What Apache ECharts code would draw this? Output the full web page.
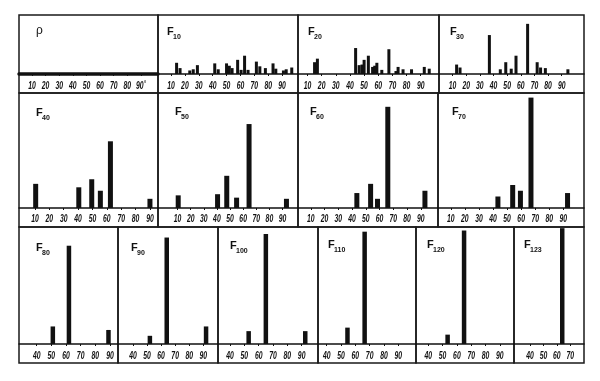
<!DOCTYPE html>
<html><head><meta charset="utf-8">
<script src="https://cdn.jsdelivr.net/npm/echarts@6/dist/echarts.min.js"></script>
<style>html,body{margin:0;padding:0;background:#fff}#c{width:600px;height:381px}</style>
</head><body><div id="c"></div>
<script>
// ---- data ----
const panelNames = ['ρ','F10','F20','F30','F40','F50','F60','F70','F80','F90','F100','F110','F120','F123'];
const ticksWide = [10,20,30,40,50,60,70,80,90];
const ticksNarrow = [40,50,60,70,80,90];
const ticksF123 = [40,50,60,70];
const rhoValues = [];
const f10 = [[14,19],[16.5,10],[23.5,6],[26,8],[29,15],[41.5,18],[44,8],[50,18],[52,14],[54,10],[58,24],[60.5,7],[63,31],[65.5,7],[71.5,21],[74,13],[78,10],[83.5,18],[85.5,9],[91,6],[93,8],[97,11]];
const f20 = [[15,20],[17,26],[44,44],[46.5,15],[48.5,16],[50,24],[53,31],[56,12],[57.5,14],[59,19],[62.5,7],[67.5,42],[72.5,5],[74,12],[77.5,8],[83.5,8],[92.5,12],[96,9]];
const f30 = [[13,16],[15.5,11],[37,66],[45,8],[49,20],[53,9],[56.5,31],[65,85],[72,20],[74.5,11],[78,10],[94.5,8]];
const f40 = [[10.5,21],[40.5,18],[49.5,25],[55.5,15],[62.5,58],[90,8]];
const f50 = [[10.5,11],[40.5,12],[47.5,28],[55,9],[64.5,73],[93,8]];
const f60 = [[43.5,13],[53.5,21],[58.5,8],[66,88],[93,15]];
const f70 = [[43.5,10],[54,20],[59.5,15],[67,96],[93,13]];
const f80 = [[51,15],[62,84],[89,12]];
const f90 = [[52,7],[64,91],[92,15]];
const f100 = [[53,11],[65,94],[92.5,11]];
const f110 = [[54.5,14],[66.5,96]];
const f120 = [[53.5,8],[65,97]];
const f123 = [[64,99]];
const panelData = [rhoValues,f10,f20,f30,f40,f50,f60,f70,f80,f90,f100,f110,f120,f123];

// ---- layout ----
const rows = [{top:15,base:74,bottom:93,lab:12},{top:93,base:208,bottom:227,lab:11},{top:227,base:344,bottom:363,lab:11.5}];
const layout = [
 {l:19,r:158,row:0,min:0.5,max:102.5,ticks:ticksWide,bw:3,tdx:17,tdy:10},
 {l:158,r:298,row:0,min:0.6,max:101.5,ticks:ticksWide,bw:3,tdx:9,tdy:11},
 {l:298,r:439,row:0,min:3.3,max:102.9,ticks:ticksWide,bw:3,tdx:10,tdy:11},
 {l:439,r:584,row:0,min:0.1,max:106.3,ticks:ticksWide,bw:3,tdx:11,tdy:11},
 {l:19,r:158,row:1,min:-1.1,max:95.6,ticks:ticksWide,bw:5,tdx:17,tdy:14},
 {l:158,r:298,row:1,min:-4.9,max:101.8,ticks:ticksWide,bw:5,tdx:17,tdy:13},
 {l:298,r:438,row:1,min:0.7,max:102.5,ticks:ticksWide,bw:5,tdx:12,tdy:13},
 {l:438,r:584,row:1,min:0.9,max:104.7,ticks:ticksWide,bw:5,tdx:14,tdy:13},
 {l:19,r:118,row:2,min:27.9,max:95.5,ticks:ticksNarrow,bw:4.5,tdx:17,tdy:15},
 {l:118,r:218,row:2,min:29.3,max:100.5,ticks:ticksNarrow,bw:4.5,tdx:13,tdy:15},
 {l:218,r:318,row:2,min:31.6,max:101.4,ticks:ticksNarrow,bw:4.5,tdx:12,tdy:13},
 {l:318,r:416,row:2,min:33.9,max:102.4,ticks:ticksNarrow,bw:4.5,tdx:10,tdy:12},
 {l:416,r:514,row:2,min:31.4,max:99.9,ticks:ticksNarrow,bw:4.5,tdx:11,tdy:12},
 {l:514,r:584,row:2,min:28.1,max:80.2,ticks:ticksF123,bw:4.5,tdx:10,tdy:12}
];

const ink = '#111';
const grid = [], xAxis = [], yAxis = [], series = [], graphic = [];
layout.forEach((p, i) => {
  const rw = rows[p.row];
  grid.push({left:p.l, top:rw.top, width:p.r-p.l, height:rw.base-rw.top, show:false});
  xAxis.push({
    type:'value', gridIndex:i, min:p.min, max:p.max,
    splitLine:{show:false},
    axisLine:{show:true, onZero:false, lineStyle:{color:ink, width: i===0 ? 3.5 : 1.5}},
    axisTick:{show:true, length:2, customValues:p.ticks, lineStyle:{color:ink}},
    axisLabel:{show:false}
  });
  yAxis.push({type:'value', gridIndex:i, min:0, max:100, show:false});
  series.push({type:'bar', xAxisIndex:i, yAxisIndex:i, data:panelData[i], barWidth:p.bw,
    itemStyle:{color:ink}, silent:true, animation:false});
  graphic.push({type:'rect', shape:{x:p.l, y:rw.top, width:p.r-p.l, height:rw.bottom-rw.top},
    style:{fill:'none', stroke:'#1a1a1a', lineWidth:1.5}, silent:true});
  const name = panelNames[i];
  const tx = p.l + p.tdx, ty = rw.top + p.tdy;
  if (name.startsWith('F')) {
    graphic.push({type:'text', x:tx, y:ty, style:{text:'F', fontSize:11, fontWeight:'bold',
      fontFamily:'"Liberation Sans",sans-serif', fill:ink}, silent:true});
    graphic.push({type:'text', x:tx+6, y:ty+8, style:{text:name.slice(1), fontSize:7, fontWeight:'bold',
      fontFamily:'"Liberation Sans",sans-serif', fill:ink}, silent:true});
  } else {
    graphic.push({type:'text', x:tx, y:ty, style:{text:name, fontSize:12,
      fontFamily:'"Liberation Sans",sans-serif', fill:ink}, silent:true});
  }
});

const chart = echarts.init(document.getElementById('c'), null, {renderer:'canvas'});
chart.setOption({backgroundColor:'#fff', animation:false, grid, xAxis, yAxis, series});

// condensed italic tick labels, placed through each axis' own scale
layout.forEach((p, i) => {
  const rw = rows[p.row];
  p.ticks.forEach(v => {
    const px = chart.convertToPixel({xAxisIndex:i}, v);
    graphic.push({type:'text', x:px, y:rw.base + rw.lab, scaleX:0.62, silent:true,
      style:{text:(i===0 && v===90) ? '90˚' : String(v), align:'center', verticalAlign:'middle',
        fontSize:11, fontStyle:'italic', fontWeight:'bold', fontFamily:'"Liberation Sans",sans-serif', fill:ink}});
  });
});
chart.setOption({graphic});
</script>
</body></html>
